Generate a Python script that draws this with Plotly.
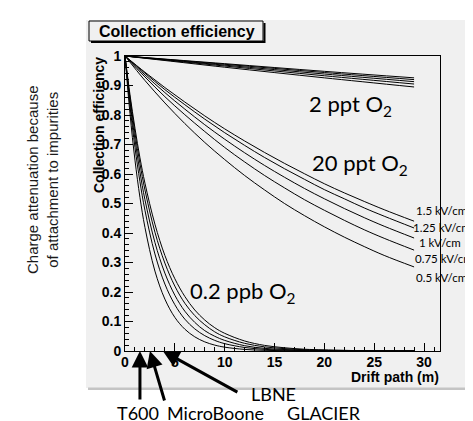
import plotly.graph_objects as go

# ---------------- data ----------------
fields = ["1.5 kV/cm", "1.25 kV/cm", "1 kV/cm", "0.75 kV/cm", "0.5 kV/cm"]

# 2 ppt O2
x_2ppt = [0, 10, 20, 29]
eff_2ppt_15 = [1, 0.974, 0.948, 0.926]
eff_2ppt_125 = [1, 0.972, 0.944, 0.920]
eff_2ppt_1 = [1, 0.969, 0.939, 0.913]
eff_2ppt_075 = [1, 0.966, 0.933, 0.905]
eff_2ppt_05 = [1, 0.962, 0.926, 0.895]

# 20 ppt O2
x_20ppt = [0, 2, 4, 6, 8, 10, 12, 14, 16, 18, 20, 22, 24, 26, 29]
eff_20ppt_15 = [1, 0.945, 0.893, 0.844, 0.797, 0.753, 0.712, 0.673, 0.636, 0.601, 0.567, 0.536, 0.507, 0.479, 0.440]
eff_20ppt_125 = [1, 0.942, 0.886, 0.835, 0.786, 0.740, 0.697, 0.656, 0.618, 0.582, 0.547, 0.516, 0.485, 0.457, 0.417]
eff_20ppt_1 = [1, 0.936, 0.876, 0.820, 0.767, 0.718, 0.672, 0.629, 0.589, 0.551, 0.516, 0.483, 0.452, 0.423, 0.383]
eff_20ppt_075 = [1, 0.929, 0.862, 0.801, 0.744, 0.690, 0.641, 0.595, 0.553, 0.513, 0.477, 0.443, 0.411, 0.382, 0.342]
eff_20ppt_05 = [1, 0.917, 0.841, 0.771, 0.707, 0.649, 0.595, 0.546, 0.500, 0.459, 0.421, 0.386, 0.354, 0.324, 0.285]

# 0.2 ppb O2
x_02ppb = [0, 0.5, 1, 1.5, 2, 3, 4, 5, 6, 7, 8, 9, 10, 12, 14, 16, 18, 20, 24, 29]
eff_02ppb_15 = [1, 0.869, 0.755, 0.655, 0.569, 0.430, 0.324, 0.245, 0.185, 0.139, 0.105, 0.079, 0.060, 0.034, 0.019, 0.011, 0.006, 0.004, 0.001, 0.0003]
eff_02ppb_125 = [1, 0.859, 0.739, 0.635, 0.546, 0.403, 0.298, 0.220, 0.162, 0.120, 0.089, 0.065, 0.048, 0.026, 0.014, 0.008, 0.004, 0.002, 0.0007, 0.0002]
eff_02ppb_1 = [1, 0.846, 0.717, 0.607, 0.513, 0.368, 0.264, 0.189, 0.135, 0.097, 0.069, 0.050, 0.036, 0.018, 0.009, 0.005, 0.0025, 0.0013, 0.0003, 0.0001]
eff_02ppb_075 = [1, 0.831, 0.690, 0.574, 0.477, 0.329, 0.227, 0.157, 0.108, 0.075, 0.052, 0.036, 0.025, 0.012, 0.0056, 0.0027, 0.0013, 0.0006, 0.0001, 0.0]
eff_02ppb_05 = [1, 0.805, 0.647, 0.521, 0.419, 0.271, 0.176, 0.114, 0.074, 0.048, 0.031, 0.020, 0.013, 0.0054, 0.0023, 0.0009, 0.0004, 0.0002, 0.0, 0.0]

# experiments marked with arrows (drift length in m)
experiments = ["T600", "MicroBoone", "LBNE", "GLACIER"]
experiment_drift = [1.5, 2.5, 3.8, 19.6]

x_ticks = [0, 5, 10, 15, 20, 25, 30]

# ---------------- layout geometry ----------------
W, H = 473, 421
ML, MR, MT, MB = 117, 41, 48, 78
PW, PH = W - ML - MR, H - MT - MB
GRAY = "#f0f0f0"


def px(x):
    return (x - ML) / PW


def py(y):
    return (H - MB - y) / PH


fig = go.Figure()

series = [
    (x_2ppt, [eff_2ppt_15, eff_2ppt_125, eff_2ppt_1, eff_2ppt_075, eff_2ppt_05]),
    (x_20ppt, [eff_20ppt_15, eff_20ppt_125, eff_20ppt_1, eff_20ppt_075, eff_20ppt_05]),
    (x_02ppb, [eff_02ppb_15, eff_02ppb_125, eff_02ppb_1, eff_02ppb_075, eff_02ppb_05]),
]
for xs, ys_list in series:
    for name, ys in zip(fields, ys_list):
        fig.add_trace(go.Scatter(
            x=xs, y=ys, mode="lines", name=name,
            line=dict(color="black", width=1, shape="spline"),
            showlegend=False, hoverinfo="skip",
        ))

shapes = [
    # canvas panel
    dict(type="rect", xref="paper", yref="paper", x0=px(78), x1=px(470), y0=py(380), y1=py(12),
         fillcolor=GRAY, line=dict(width=0), layer="below"),
    # panel shadow
    dict(type="rect", xref="paper", yref="paper", x0=px(470), x1=px(473), y0=py(382), y1=py(14),
         fillcolor="#c4c4c4", line=dict(width=0), layer="below"),
    dict(type="rect", xref="paper", yref="paper", x0=px(80), x1=px(473), y0=py(382), y1=py(379.5),
         fillcolor="#c4c4c4", line=dict(width=0), layer="below"),
    # title box
    dict(type="rect", xref="paper", yref="paper", x0=px(81), x1=px(255), y0=py(33), y1=py(13),
         fillcolor=GRAY, line=dict(color="black", width=1), layer="below"),
    dict(type="line", xref="paper", yref="paper", x0=px(83), x1=px(257), y0=py(34), y1=py(34),
         line=dict(color="black", width=2)),
    dict(type="line", xref="paper", yref="paper", x0=px(256.5), x1=px(256.5), y0=py(15), y1=py(35),
         line=dict(color="black", width=2)),
]

ann = []
ann.append(dict(xref="paper", yref="paper", x=px(89), y=py(23.5), xanchor="left", yanchor="middle",
                text="<b>Collection efficiency</b>", showarrow=False,
                font=dict(family="Liberation Sans", size=16, color="black")))
# axis titles (ROOT style, aligned to axis end)
ann.append(dict(xref="paper", yref="paper", x=px(91), y=py(47), xanchor="center", yanchor="top",
                text="<b>Collection efficiency</b>", textangle=-90, showarrow=False,
                font=dict(family="Liberation Sans", size=14, color="black")))
ann.append(dict(xref="paper", yref="paper", x=px(433), y=py(369), xanchor="right", yanchor="middle",
                text="<b>Drift path (m)</b>", showarrow=False,
                font=dict(family="Liberation Sans", size=14, color="black")))
# outer title
ann.append(dict(xref="paper", yref="paper", x=px(34), y=py(172), xanchor="center", yanchor="middle",
                text="Charge attenuation because<br>of attachment to impurities", textangle=-90,
                showarrow=False, font=dict(family="Liberation Sans", size=15, color="#1a1a1a")))

# concentration labels
lab_font = dict(family="Lato", size=22, color="black")
ann.append(dict(xref="x", yref="y", x=18.3, y=0.835, xanchor="left", yanchor="middle",
                text="2 ppt O<sub>2</sub>", showarrow=False, font=lab_font))
ann.append(dict(xref="x", yref="y", x=18.6, y=0.635, xanchor="left", yanchor="middle",
                text="20 ppt O<sub>2</sub>", showarrow=False, font=lab_font))
ann.append(dict(xref="x", yref="y", x=6.3, y=0.2, xanchor="left", yanchor="middle",
                text="0.2 ppb O<sub>2</sub>", showarrow=False, font=lab_font))

# field labels
field_pos = [(406, 203), (403, 219), (409, 234), (405, 250), (406, 269)]
for name, (lx, ly) in zip(fields, field_pos):
    ann.append(dict(xref="paper", yref="paper", x=px(lx), y=py(ly), xanchor="left", yanchor="middle",
                    text=name, showarrow=False,
                    font=dict(family="Lato", size=11.5, color="black")))

# experiment arrows
tails = [(0, 50), (15, 51), (76, 42), (0, 50)]
tip_y = [0, 0, 0, -0.024]
for name, xd, yd, (ax, ay) in zip(experiments, experiment_drift, tip_y, tails):
    ann.append(dict(xref="x", yref="y", x=xd, y=yd, ax=ax, ay=ay, axref="pixel", ayref="pixel",
                    text="", showarrow=True, arrowhead=2, arrowsize=1.1, arrowwidth=3,
                    arrowcolor="black", standoff=0))
exp_text_pos = [(130, 405), (207, 405), (265, 386), (316, 405)]
for name, (tx, ty) in zip(experiments, exp_text_pos):
    ann.append(dict(xref="paper", yref="paper", x=px(tx), y=py(ty), xanchor="center", yanchor="middle",
                    text=name, showarrow=False, font=dict(family="Lato", size=18, color="black")))

tick_font = dict(family="Liberation Sans", size=14, color="black", weight="bold")
fig.update_layout(
    width=W, height=H,
    margin=dict(l=ML, r=MR, t=MT, b=MB),
    paper_bgcolor="white", plot_bgcolor=GRAY,
    shapes=shapes, annotations=ann,
    xaxis=dict(range=[0, 31.6], tickmode="array", tickvals=x_ticks, ticktext=[str(v) for v in x_ticks],
               ticks="inside", ticklen=8, tickwidth=1, tickcolor="black",
               minor=dict(dtick=1, tick0=0, ticks="inside", ticklen=4, tickcolor="black", tickwidth=1),
               showline=True, linecolor="black", linewidth=1, mirror=True,
               showgrid=False, zeroline=False, tickfont=tick_font, ticklabelstandoff=-2),
    yaxis=dict(range=[0, 1], tickmode="linear", tick0=0, dtick=0.1,
               ticks="inside", ticklen=8, tickwidth=1, tickcolor="black",
               minor=dict(dtick=0.02, tick0=0, ticks="inside", ticklen=4, tickcolor="black", tickwidth=1),
               showline=True, linecolor="black", linewidth=1, mirror=True,
               showgrid=False, zeroline=False, tickfont=tick_font, ticklabelstandoff=0),
)

fig.write_html("out.html")
